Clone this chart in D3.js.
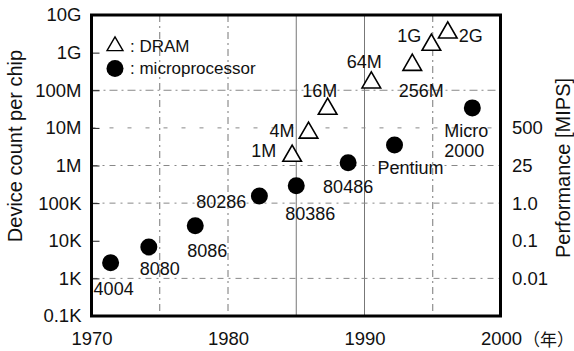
<!DOCTYPE html>
<html>
<head>
<meta charset="utf-8">
<script src="https://cdn.jsdelivr.net/npm/d3@7"></script>
<style>
  body { margin: 0; background: #fff; }
  svg { display: block; }
  text { font-family: "Liberation Sans", Arial, Helvetica, sans-serif; fill: #111; }
</style>
</head>
<body>
<svg></svg>
<script>
// DRAM generations (hollow triangles)
const dramLabels = ['1M', '4M', '16M', '64M', '256M', '1G', '2G'];
const dramYears = [1984.7, 1985.9, 1987.3, 1990.5, 1993.5, 1994.9, 1996.1];
const dramCounts = [1.8e6, 7.4e6, 3.2e7, 1.6e8, 4.7e8, 1.6e9, 3.4e9];

// microprocessors (filled dots)
const cpuLabels = ['4004', '8080', '8086', '80286', '80386', '80486', 'Pentium', 'Micro 2000'];
const cpuYears = [1971.4, 1974.2, 1977.6, 1982.3, 1985.0, 1988.8, 1992.2, 1997.9];
const cpuCounts = [2.6e3, 6.8e3, 2.5e4, 1.55e5, 2.9e5, 1.18e6, 3.5e6, 3.4e7];

// axes
const yTickValues = [1e2, 1e3, 1e4, 1e5, 1e6, 1e7, 1e8, 1e9, 1e10];
const yTickLabels = ['0.1K', '1K', '10K', '100K', '1M', '10M', '100M', '1G', '10G'];
const xTickValues = [1970, 1980, 1990, 2000];
const perfLabels = ['500', '25', '1.0', '0.1', '0.01'];
const perfAt = [1e7, 1e6, 1e5, 1e4, 1e3];

const size = {w: 574, h: 351};
const plot = {l: 91.5, r: 501, t: 15, b: 316};

const svg = d3.select('svg')
    .attr('width', size.w)
    .attr('height', size.h);

const x = d3.scaleLinear().domain([1970, 2000]).range([plot.l, plot.r]);
const y = d3.scaleLog().domain([1e2, 1e10]).range([plot.b, plot.t]);

// grid lines
const vGrid = [
    {yr: 1975, dash: '7,4,2,4'},
    {yr: 1980, dash: '7,4,2,4'},
    {yr: 1985, dash: null},
    {yr: 1990, dash: null},
    {yr: 1995, dash: '7,4,2,4'}
];
svg.append('g')
    .selectAll('line')
    .data(vGrid)
    .join('line')
    .attr('x1', d => x(d.yr)).attr('x2', d => x(d.yr))
    .attr('y1', plot.t).attr('y2', plot.b)
    .attr('stroke', '#777')
    .attr('stroke-width', 1)
    .attr('stroke-dasharray', d => d.dash);

const hGrid = [
    {v: 1e3, dash: '6,5,2,5'},
    {v: 1e5, dash: '6,5,2,5'},
    {v: 1e6, dash: '6,5,2,5'},
    {v: 1e7, dash: '4,14'},
    {v: 1e8, dash: '8,4,2,4'}
];
svg.append('g')
    .selectAll('line')
    .data(hGrid)
    .join('line')
    .attr('x1', plot.l).attr('x2', plot.r)
    .attr('y1', d => y(d.v)).attr('y2', d => y(d.v))
    .attr('stroke', '#888')
    .attr('stroke-width', 1)
    .attr('stroke-dasharray', d => d.dash);

// left axis
const yAxis = svg.append('g')
    .attr('transform', `translate(${plot.l},0)`)
    .call(d3.axisLeft(y)
        .tickValues(yTickValues)
        .tickFormat((d, i) => yTickLabels[i])
        .tickSizeInner(-8)
        .tickSizeOuter(0)
        .tickPadding(10));
yAxis.select('.domain').remove();
yAxis.selectAll('line').attr('stroke', '#222');
yAxis.selectAll('text')
    .attr('font-family', null)
    .attr('font-size', 18.5)
    .attr('fill', '#111');

// bottom axis
const xAxis = svg.append('g')
    .attr('transform', `translate(0,${plot.b})`)
    .call(d3.axisBottom(x)
        .tickValues(xTickValues)
        .tickFormat(d3.format('d'))
        .tickSize(0)
        .tickPadding(16));
xAxis.select('.domain').remove();
xAxis.selectAll('text')
    .attr('font-family', null)
    .attr('font-size', 18.5)
    .attr('fill', '#111');

svg.append('text')
    .attr('x', 523).attr('y', 346)
    .attr('font-size', 17)
    .style('font-family', '"Noto Sans CJK JP", sans-serif')
    .text('（年）');

// right labels (performance)
svg.append('g')
    .selectAll('text')
    .data(perfLabels)
    .join('text')
    .attr('x', 512)
    .attr('y', (d, i) => y(perfAt[i]))
    .attr('dy', '0.35em')
    .attr('font-size', 18.5)
    .text(d => d);

// axis titles
svg.append('text')
    .attr('transform', 'translate(22,146) rotate(-90)')
    .attr('text-anchor', 'middle')
    .attr('font-size', 20)
    .text('Device count per chip');

svg.append('text')
    .attr('transform', 'translate(570,168) rotate(-90)')
    .attr('text-anchor', 'middle')
    .attr('font-size', 20)
    .text('Performance [MIPS]');

// frame
svg.append('rect')
    .attr('x', plot.l).attr('y', plot.t)
    .attr('width', plot.r - plot.l - 0.5)
    .attr('height', plot.b - plot.t)
    .attr('fill', 'none')
    .attr('stroke', '#000')
    .attr('stroke-width', 3);

// data marks
const tri = d3.symbol(d3.symbolTriangle, 150);

const dram = dramLabels.map((name, i) => ({name, yr: dramYears[i], v: dramCounts[i]}));
const cpu = cpuLabels.map((name, i) => ({name, yr: cpuYears[i], v: cpuCounts[i]}));

svg.append('g')
    .selectAll('path')
    .data(dram)
    .join('path')
    .attr('d', tri)
    .attr('transform', d => `translate(${x(d.yr)},${y(d.v)})`)
    .attr('fill', '#fff')
    .attr('stroke', '#000')
    .attr('stroke-width', 1.6);

svg.append('g')
    .selectAll('circle')
    .data(cpu)
    .join('circle')
    .attr('cx', d => x(d.yr))
    .attr('cy', d => y(d.v))
    .attr('r', 8.5)
    .attr('fill', '#000');

// label placement relative to each mark
const labelPos = {
    '1M': [-16, 1, 'end'], '4M': [-14, 4, 'end'], '16M': [-8, -12, 'middle'],
    '64M': [-7, -15, 'middle'], '256M': [9, 32, 'middle'], '1G': [-10, -3, 'end'],
    '2G': [11, 9, 'start'],
    '4004': [-17, 32, 'start'], '8080': [-9, 28, 'start'], '8086': [-8, 31, 'start'],
    '80286': [-13, 12, 'end'], '80386': [-11, 34, 'start'], '80486': [-25, 30, 'start'],
    'Pentium': [-17, 29, 'start'], 'Micro 2000': [-28, 29, 'start']
};

const labels = svg.append('g')
    .selectAll('text')
    .data(dram.concat(cpu))
    .join('text')
    .attr('x', d => x(d.yr) + labelPos[d.name][0])
    .attr('y', d => y(d.v) + labelPos[d.name][1])
    .attr('text-anchor', d => labelPos[d.name][2])
    .attr('font-size', 18);

labels.each(function(d) {
    const parts = d.name.split(' ');
    const t = d3.select(this);
    if (d.name === 'Micro 2000') {
        t.append('tspan').text(parts[0]);
        t.append('tspan').attr('x', x(d.yr) + labelPos[d.name][0]).attr('dy', 20).text(parts[1]);
    } else {
        t.text(d.name);
    }
});

// legend
svg.append('path')
    .attr('d', d3.symbol(d3.symbolTriangle, 110))
    .attr('transform', 'translate(115,46)')
    .attr('fill', '#fff')
    .attr('stroke', '#000')
    .attr('stroke-width', 1.4);
svg.append('text')
    .attr('x', 130).attr('y', 52)
    .attr('font-size', 17)
    .text(': DRAM');

svg.append('circle')
    .attr('cx', 115).attr('cy', 68.5)
    .attr('r', 8.5)
    .attr('fill', '#000');
svg.append('text')
    .attr('x', 130).attr('y', 74)
    .attr('font-size', 17)
    .text(': microprocessor');
</script>
</body>
</html>
